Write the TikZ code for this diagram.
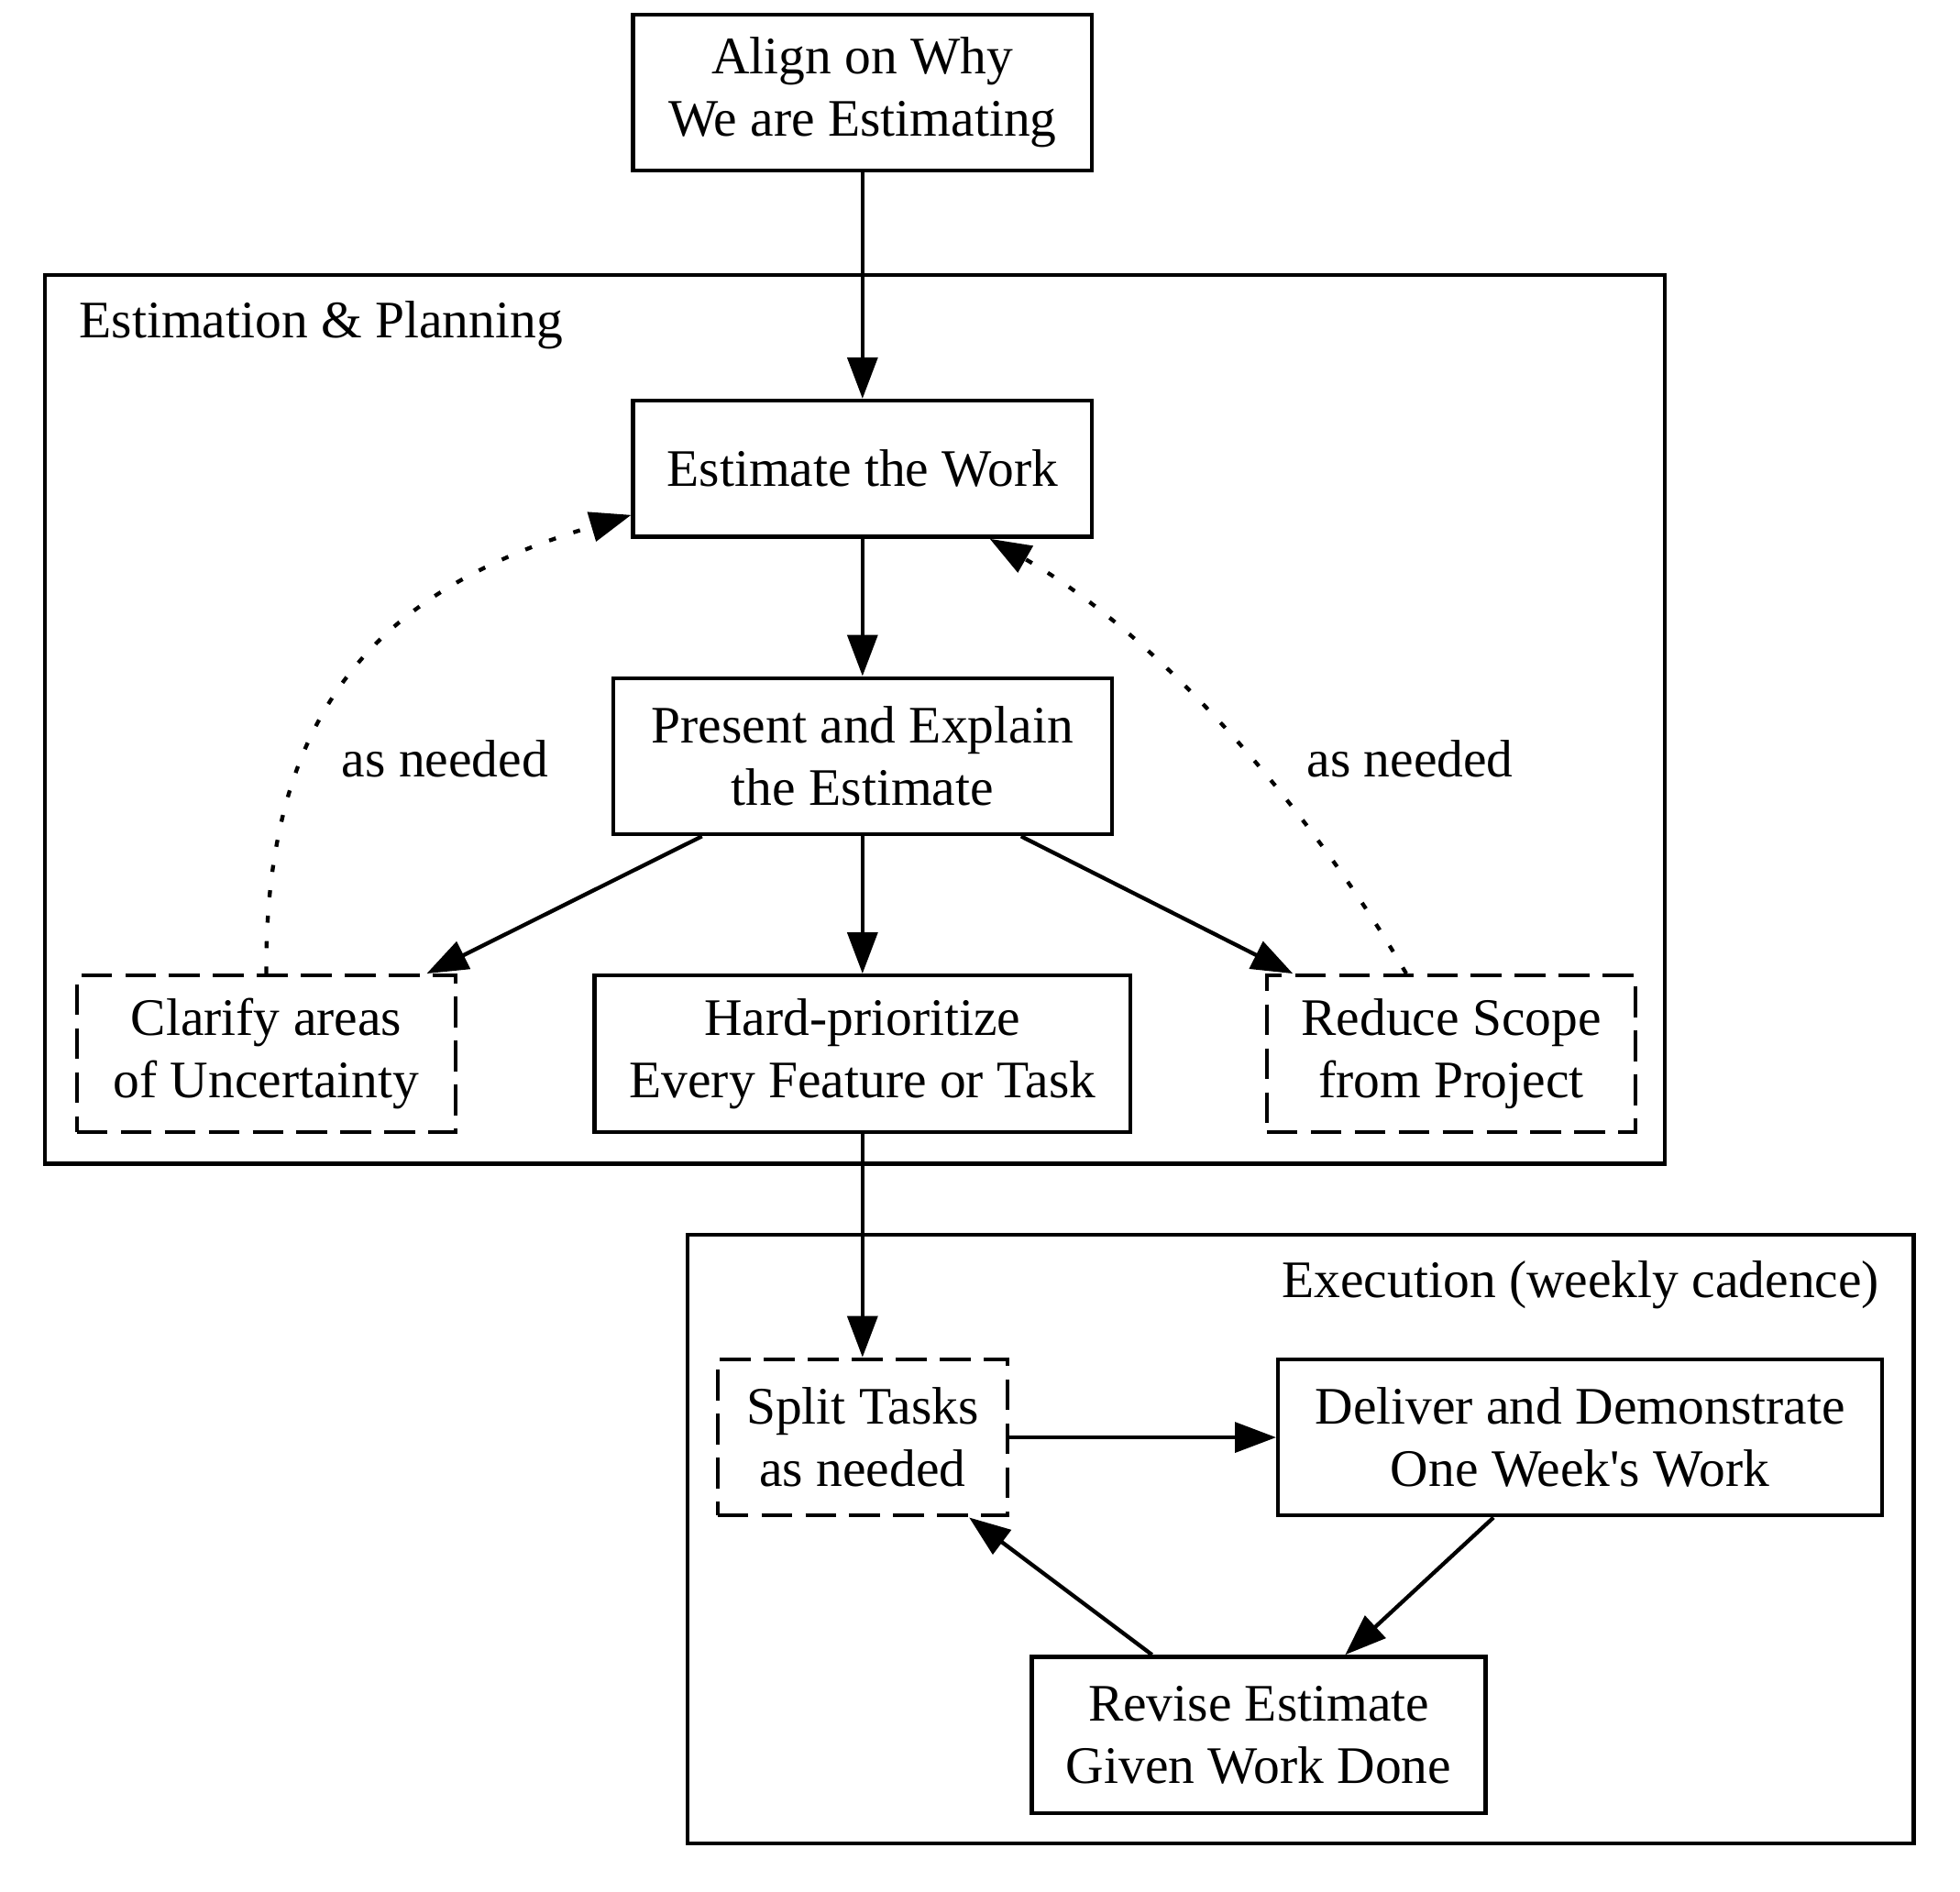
\documentclass[tikz,border=0pt]{standalone}
\usepackage{fontspec}
\setmainfont{Liberation Serif}
\usetikzlibrary{arrows.meta,
                calc,
                positioning}

\begin{document}
\begin{tikzpicture}[x=0.1mm,y=-0.1mm,line width=0.9pt,
  font=\fontsize{12}{14.2}\selectfont,
  box/.style={draw,rectangle,align=center,inner sep=0pt,minimum height=10.9mm},
  twoline/.style={minimum height=12.5mm},
  optbox/.style={box,dash pattern=on 7pt off 3pt},
  flow/.style={-{Triangle[length=3.3mm,width=2.4mm]}},
  maybe/.style={flow,dash pattern=on 1.6pt off 4.2pt},
  lbl/.style={inner sep=0pt}]
\useasboundingbox (0,0) rectangle (1568,1513);
% clusters
\draw (36,220) rectangle (1332,931);
\node[lbl,anchor=west] (planlbl) at (62,260) {Estimation \& Planning};
\draw (550,988) rectangle (1531,1475);
\node[lbl,anchor=east] (execlbl) at (1505,1028) {Execution (weekly cadence)};
% steps
\node[box,twoline,minimum width=36.7mm] (align) at (690,74) {Align on Why\\We are Estimating};
\node[box,minimum width=36.7mm] (estimate) at (690,375) {Estimate the Work};
\node[box,twoline,minimum width=39.9mm] (present) at (690,605) {Present and Explain\\the Estimate};
\node[optbox,twoline,minimum width=30.3mm] (clarify) at (213,843) {Clarify areas\\of Uncertainty};
\node[box,twoline,minimum width=42.9mm] (hardprio) at (690,843) {Hard-prioritize\\Every Feature or Task};
\node[optbox,twoline,minimum width=29.5mm] (reduce) at (1161,843) {Reduce Scope\\from Project};
\node[optbox,twoline,minimum width=23.2mm] (split) at (690,1150) {Split Tasks\\as needed};
\node[box,twoline,minimum width=48.3mm] (deliver) at (1264,1150) {Deliver and Demonstrate\\One Week\textquotesingle s Work};
\node[box,twoline,minimum width=36.3mm] (revise) at (1007,1388) {Revise Estimate\\Given Work Done};
% edges
\draw[flow] (align) -- (estimate);
\draw[flow] (estimate) -- (present);
\draw[flow] (present) -- (clarify);
\draw[flow] (present) -- (hardprio);
\draw[flow] (present) -- (reduce);
\draw[flow] (hardprio) -- (split);
\draw[flow] (split) -- (deliver);
\draw[flow] (deliver) -- (revise);
\draw[flow] (revise) -- (split);
%\draw[maybe] (clarify) to[bend left] (estimate);
\draw[maybe] (clarify.north) .. controls (212,560) and (310,470) .. ($(estimate.south west)!0.17!(estimate.north west)$);
\draw[maybe] ($(reduce.north)+(-36,0)$) .. controls (1050,650) and (930,510) .. ($(estimate.south)!0.55!(estimate.south east)$);
\node[lbl] (needl) at (356,607) {as needed};
\node[lbl] (needr) at (1128,607) {as needed};
\end{tikzpicture}
\end{document}
